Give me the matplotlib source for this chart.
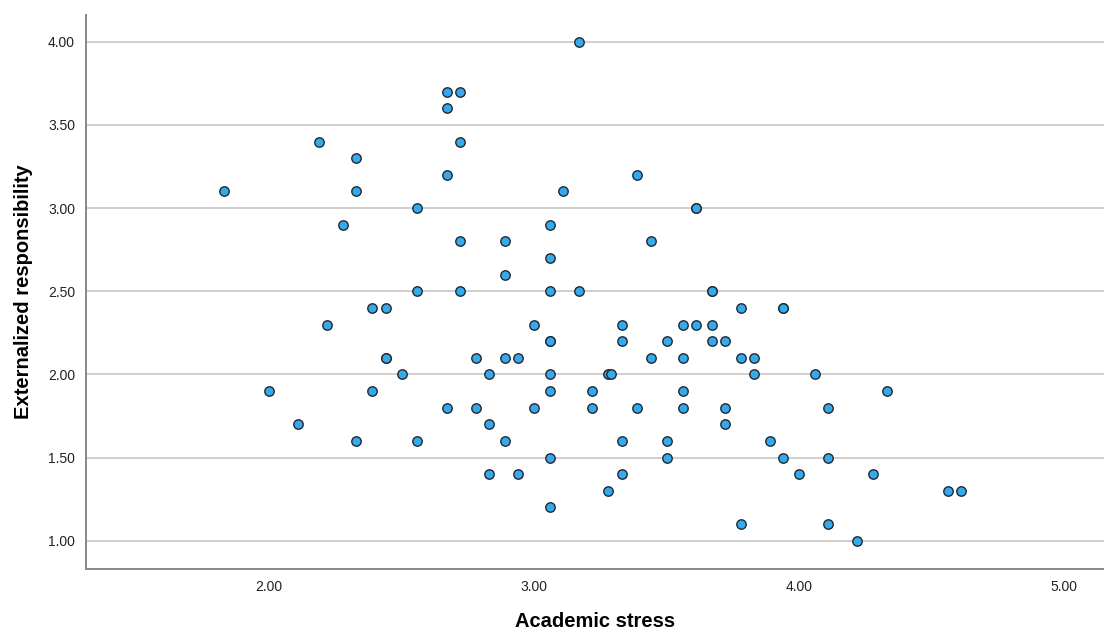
import matplotlib
matplotlib.use("Agg")
import matplotlib.pyplot as plt

plt.rcParams['font.family'] = ['Liberation Sans', 'DejaVu Sans']

# Academic stress (x) and Externalized responsibility (y)
stress = [
    1.83, 2.19, 2.33, 2.33, 2.28, 2.39, 2.44,
    3.17, 2.67, 2.72, 2.67, 2.72, 2.67, 3.39, 3.11, 2.56, 3.61, 3.61,
    3.06, 2.72, 2.89, 3.44, 3.06, 2.89, 2.56, 2.72, 3.06, 3.17, 3.67, 3.67,
    3.78, 3.94, 3.94,
    3.00, 3.33, 3.56, 3.61, 3.67,
    3.06, 3.06, 3.33, 3.50, 3.67, 3.72,
    2.44, 2.44, 2.78, 2.89, 2.94, 3.44, 3.56, 3.78, 3.83,
    2.50, 2.83, 3.06, 3.28, 3.29, 3.83, 4.06,
    2.00, 2.39, 3.06, 3.22, 3.56, 4.33,
    2.67, 2.78, 3.00, 3.22, 3.39, 3.56, 3.72, 4.11,
    2.11, 2.83, 3.72,
    2.33, 2.56, 2.89, 3.33, 3.50, 3.89,
    3.06, 3.50, 3.94, 4.11,
    2.83, 2.94, 3.33, 4.00, 4.28,
    3.28, 4.56, 4.61,
    3.06,
    3.78, 4.11,
    4.22,
    2.22,
]
responsibility = [
    3.1, 3.4, 3.3, 3.1, 2.9, 2.4, 2.4,
    4.0, 3.7, 3.7, 3.6, 3.4, 3.2, 3.2, 3.1, 3.0, 3.0, 3.0,
    2.9, 2.8, 2.8, 2.8, 2.7, 2.6, 2.5, 2.5, 2.5, 2.5, 2.5, 2.5,
    2.4, 2.4, 2.4,
    2.3, 2.3, 2.3, 2.3, 2.3,
    2.2, 2.2, 2.2, 2.2, 2.2, 2.2,
    2.1, 2.1, 2.1, 2.1, 2.1, 2.1, 2.1, 2.1, 2.1,
    2.0, 2.0, 2.0, 2.0, 2.0, 2.0, 2.0,
    1.9, 1.9, 1.9, 1.9, 1.9, 1.9,
    1.8, 1.8, 1.8, 1.8, 1.8, 1.8, 1.8, 1.8,
    1.7, 1.7, 1.7,
    1.6, 1.6, 1.6, 1.6, 1.6, 1.6,
    1.5, 1.5, 1.5, 1.5,
    1.4, 1.4, 1.4, 1.4, 1.4,
    1.3, 1.3, 1.3,
    1.2,
    1.1, 1.1,
    1.0,
    2.3,
]

x_ticks = [2.0, 3.0, 4.0, 5.0]
y_ticks = [1.0, 1.5, 2.0, 2.5, 3.0, 3.5, 4.0]

fig = plt.figure(figsize=(11.04, 6.31), dpi=100)
ax = fig.add_axes([0.078, 0.099, 0.922, 0.877])

ax.scatter(stress, responsibility, s=46, color='#36a9ec', edgecolor='#1e2a36',
           linewidth=1.0, zorder=3)

ax.set_xlim(1.31, 5.15)
ax.set_ylim(0.833, 4.16)
ax.set_xticks(x_ticks)
ax.set_yticks(y_ticks)
ax.set_xticklabels(['%.2f' % v for v in x_ticks])
ax.set_yticklabels(['%.2f' % v for v in y_ticks])
ax.tick_params(length=0, labelsize=10, colors='#222222', pad=8)

ax.grid(axis='y', color='#cfcfcf', linewidth=1.4, zorder=0)
ax.set_axisbelow(True)

for side in ['top', 'right']:
    ax.spines[side].set_visible(False)
for side in ['left', 'bottom']:
    ax.spines[side].set_color('#888888')
    ax.spines[side].set_linewidth(1.4)

ax.set_xlabel('Academic stress', fontsize=14.5, fontweight='bold', labelpad=13)
ax.set_ylabel('Externalized responsibility', fontsize=14.5, fontweight='bold', labelpad=11)

fig.savefig('out.png', dpi=100)
